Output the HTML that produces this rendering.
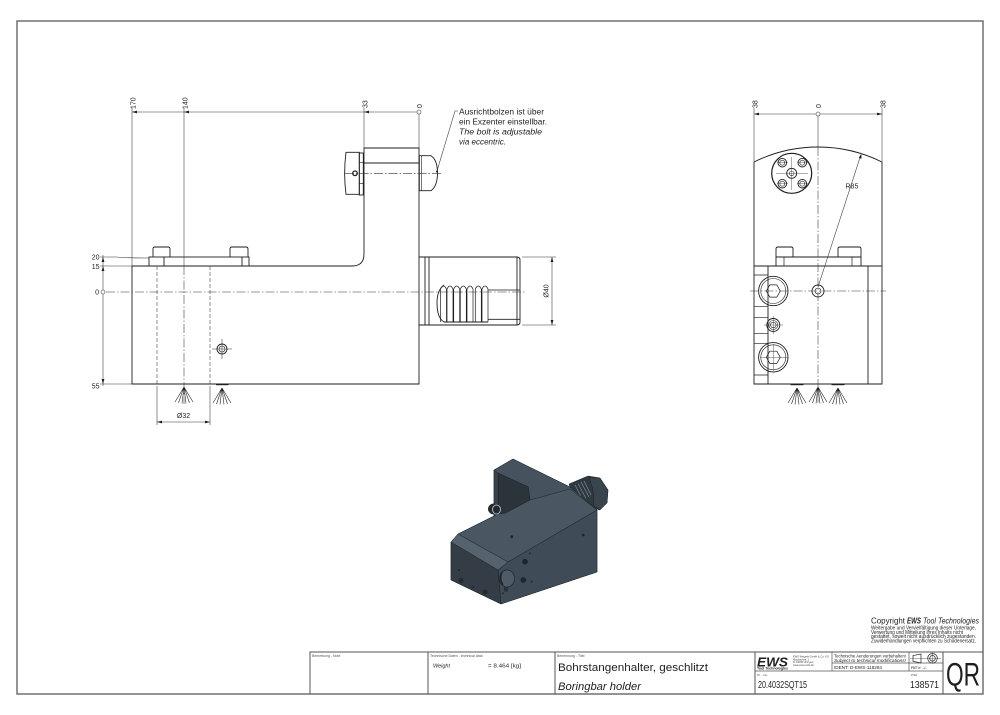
<!DOCTYPE html>
<html><head><meta charset="utf-8">
<style>html,body{margin:0;padding:0;background:#fff}svg{display:block}</style>
</head>
<body>
<svg width="1000" height="715" viewBox="0 0 1000 715" xmlns="http://www.w3.org/2000/svg" font-family="Liberation Sans, sans-serif">
<defs>
<path id="spray" d="M0 2 L-9 17 M0 2 L-5.5 18 M0 2 L-2 18.5 M0 2 L2 18.5 M0 2 L5.5 18 M0 2 L9 17" fill="none" stroke="#222" stroke-width="0.6"/>
</defs>
<rect width="1000" height="715" fill="#fff"/>
<path d="M17 694 V21 H983 V694 Z" fill="none" stroke="#707070" stroke-width="1.5"/>

<!-- ================= LEFT VIEW ================= -->
<g fill="none" stroke="#1e1e1e" stroke-width="0.9">
  <path d="M132 266 V384 H419 V148 H364 V254 Q364 266 352 266 H132"/>
  <line x1="364" y1="163" x2="419" y2="163"/>
  <rect x="149" y="257" width="100" height="9"/>
  <line x1="164" y1="257" x2="164" y2="266"/>
  <line x1="242" y1="257" x2="242" y2="266"/>
  <path d="M153 257 V249 Q153 247 155 247 H168 Q170 247 170 249 V257"/>
  <path d="M230 257 V249 Q230 247 232 247 H246 Q248 247 248 249 V257"/>
  <line x1="425" y1="257" x2="425" y2="325"/>
  <line x1="429" y1="257" x2="429" y2="325"/>
  <path d="M419 257 H517 Q520 257 520 260 V322 Q520 325 517 325 H419"/>
  <line x1="517" y1="257" x2="517" y2="325"/>
  <path d="M444 285 Q437 290 437 303 Q437 318 444 322 H488"/>
  <path d="M440.5 322 V289 Q443.3 283 446.5 289 V322 M447 322 V289 Q450 283 453 289 V322 M453.7 322 V289 Q456.7 283 459.7 289 V322 M460.3 322 V289 Q463.3 283 466.3 289 V322 M467 322 V289 Q470 283 473 289 V322 M475.3 322 V289 Q478.3 283 481.3 289 V322 M482 322 V289 Q485 283 488 289 V322" stroke-width="0.7"/>
  <path d="M488 290 H520 M488 319.3 H520" stroke-width="0.8"/>
  <path d="M346 152.3 H359.3 V194.3 H346 Q343.3 173.3 346 152.3 Z"/>
  <rect x="359.3" y="153" width="4" height="42"/>
  <path d="M359.3 162.7 H364 M359.3 183.3 H364" stroke-width="0.6"/>
  <circle cx="355" cy="173.3" r="2.3" stroke-width="1.3"/>
  <path d="M419.3 155.7 H431 Q437.5 160 437.5 173 Q437.5 186 431 190.7 H419.3 Z"/>
  <line x1="421.7" y1="155.7" x2="421.7" y2="190.7" stroke-width="0.6"/>
  <circle cx="222" cy="349" r="5"/>
  <circle cx="222" cy="349" r="3" stroke-width="0.6"/>
</g>
<g fill="none" stroke="#333" stroke-width="0.55">
  <line x1="157" y1="266" x2="157" y2="384" stroke-dasharray="4 2"/>
  <line x1="210" y1="266" x2="210" y2="384" stroke-dasharray="4 2"/>
  <line x1="184" y1="266" x2="184" y2="404" stroke-dasharray="9 2 1.5 2"/>
  <line x1="106" y1="292" x2="526" y2="292" stroke-dasharray="9 2 1.5 2"/>
  <line x1="345" y1="173.3" x2="441" y2="173.3" stroke-dasharray="9 2 1.5 2"/>
  <path d="M212 349 H232 M222 339 V359"/>
  <line x1="132" y1="112" x2="417" y2="112"/>
  <circle cx="419" cy="112" r="2"/>
  <line x1="132" y1="108" x2="132" y2="266"/>
  <line x1="184" y1="108" x2="184" y2="266"/>
  <line x1="364" y1="108" x2="364" y2="148"/>
  <line x1="419" y1="114" x2="419" y2="148"/>
  <line x1="103" y1="255" x2="103" y2="290"/>
  <line x1="103" y1="294" x2="103" y2="386"/>
  <circle cx="103" cy="292" r="2"/>
  <path d="M100 257 H117 Q125 258 149 258"/>
  <path d="M100 266 H132"/>
  <path d="M100 384 H132"/>
  <path d="M522 257 H556 M522 325 H556 M552 257 V325"/>
  <path d="M157 386 V425 M210 386 V425 M157 422 H210"/>
  <path d="M437 171 L455 111 H458"/>
</g>
<g fill="#1e1e1e" stroke="none">
  <path d="M132 112 L137 110.6 L137 113.4 Z"/>
  <path d="M184 112 L189 110.6 L189 113.4 Z"/>
  <path d="M364 112 L369 110.6 L369 113.4 Z"/>
  <path d="M103 257 L101.6 262 L104.4 262 Z"/>
  <path d="M103 266 L101.6 271 L104.4 271 Z"/>
  <path d="M103 384 L101.6 379 L104.4 379 Z"/>
  <path d="M552 257 L550.6 262 L553.4 262 Z"/>
  <path d="M552 325 L550.6 320 L553.4 320 Z"/>
  <path d="M157 422 L162 420.6 L162 423.4 Z"/>
  <path d="M210 422 L205 420.6 L205 423.4 Z"/>
  <circle cx="437" cy="171.5" r="1"/>
  <rect x="216" y="383.6" width="12.5" height="1.6"/>
</g>
<use href="#spray" x="184" y="385"/>
<use href="#spray" x="222" y="386"/>
<g font-size="7" fill="#1e1e1e">
  <text transform="translate(135.5,109) rotate(-90)">170</text>
  <text transform="translate(187.5,109) rotate(-90)">140</text>
  <text transform="translate(367.5,108) rotate(-90)">33</text>
  <text transform="translate(422,108) rotate(-90)">0</text>
  <text x="99.5" y="259.5" text-anchor="end">20</text>
  <text x="99.5" y="269" text-anchor="end">15</text>
  <text x="99" y="294.5" text-anchor="end">0</text>
  <text x="99.5" y="388.5" text-anchor="end">55</text>
  <text transform="translate(548.5,291) rotate(-90)" text-anchor="middle">Ø40</text>
  <text x="183.5" y="418" text-anchor="middle">Ø32</text>
</g>
<g font-size="8" fill="#1e1e1e">
  <text x="459" y="114.5" textLength="85" lengthAdjust="spacingAndGlyphs">Ausrichtbolzen ist über</text>
  <text x="459" y="124.5" textLength="88" lengthAdjust="spacingAndGlyphs">ein Exzenter einstellbar.</text>
  <text x="459" y="134.5" font-style="italic" textLength="83" lengthAdjust="spacingAndGlyphs">The bolt is adjustable</text>
  <text x="459" y="144.5" font-style="italic" textLength="47" lengthAdjust="spacingAndGlyphs">via eccentric.</text>
</g>

<!-- ================= RIGHT VIEW ================= -->
<g fill="none" stroke="#1e1e1e" stroke-width="0.9">
  <path d="M754 162 A144 144 0 0 1 882 162"/>
  <path d="M754 162 V384 H882 V162"/>
  <line x1="754" y1="266" x2="882" y2="266"/>
  <line x1="768" y1="266" x2="768" y2="384"/>
  <line x1="868" y1="266" x2="868" y2="384"/>
  <path d="M754 275 H768 M754 306.7 H768 M754 317.3 H768 M754 333.3 H768 M754 343.3 H768 M754 375 H768" stroke-width="0.7"/>
  <path d="M776 266 V249 Q776 247 778 247 H791 Q793 247 793 249 V257"/>
  <path d="M838 257 V249 Q838 247 840 247 H859 Q861 247 861 249 V266"/>
  <line x1="776" y1="257" x2="861" y2="257"/>
  <line x1="784" y1="257" x2="784" y2="266" stroke-width="0.7"/>
  <line x1="852" y1="257" x2="852" y2="266" stroke-width="0.7"/>
  <circle cx="791.7" cy="173.3" r="20" stroke-width="1.2"/>
  <circle cx="782.3" cy="162.7" r="4.3"/>
  <circle cx="802.3" cy="162.7" r="4.3"/>
  <circle cx="782.3" cy="183.7" r="4.3"/>
  <circle cx="802.3" cy="183.7" r="4.3"/>
  <g stroke-width="0.6">
  <circle cx="782.3" cy="162.7" r="2.5"/>
  <circle cx="802.3" cy="162.7" r="2.5"/>
  <circle cx="782.3" cy="183.7" r="2.5"/>
  <circle cx="802.3" cy="183.7" r="2.5"/>
  </g>
  <circle cx="791.7" cy="173.3" r="5"/>
  <circle cx="791.7" cy="173.3" r="2.3" stroke-width="0.6"/>
  <circle cx="773.3" cy="291" r="14.7"/>
  <circle cx="773.3" cy="291" r="12.5" stroke-width="0.6"/>
  <path d="M780.3 291 L776.8 297.1 L769.8 297.1 L766.3 291 L769.8 284.9 L776.8 284.9 Z" stroke-width="0.7"/>
  <circle cx="773.3" cy="357.3" r="14.7"/>
  <circle cx="773.3" cy="357.3" r="12.5" stroke-width="0.6"/>
  <path d="M780.3 357.3 L776.8 363.4 L769.8 363.4 L766.3 357.3 L769.8 351.2 L776.8 351.2 Z" stroke-width="0.7"/>
  <circle cx="773.3" cy="325" r="6.5"/>
  <circle cx="773.3" cy="325" r="4.5" stroke-width="0.6"/>
  <circle cx="773.3" cy="325" r="2.8" stroke-width="0.6"/>
  <circle cx="818" cy="291" r="6"/>
  <circle cx="818" cy="291" r="3" stroke-width="0.6"/>
</g>
<g fill="none" stroke="#333" stroke-width="0.55">
  <path d="M776 173.3 H808 M791.7 157 V190 M777 162.7 H788 M797 162.7 H808 M777 183.7 H788 M797 183.7 H808" stroke-width="0.4"/>
  <line x1="750" y1="291" x2="886" y2="291" stroke-dasharray="9 2 1.5 2"/>
  <line x1="818" y1="147" x2="818" y2="404" stroke-dasharray="9 2 1.5 2"/>
  <path d="M760 357.3 H788 M773.3 344 V371 M764 325 H783 M773.3 316 V334" stroke-width="0.4"/>
  <line x1="754" y1="114" x2="816" y2="114"/>
  <line x1="820" y1="114" x2="882" y2="114"/>
  <circle cx="818" cy="114" r="2"/>
  <line x1="754" y1="108" x2="754" y2="162"/>
  <line x1="882" y1="108" x2="882" y2="162"/>
  <line x1="818" y1="116" x2="818" y2="147"/>
  <line x1="818" y1="287" x2="860.5" y2="156"/>
</g>
<g fill="#1e1e1e" stroke="none">
  <path d="M754 114 L759 112.6 L759 115.4 Z"/>
  <path d="M882 114 L877 112.6 L877 115.4 Z"/>
  <path d="M861.3 153.6 L861.5 158.8 L858.8 157.9 Z"/>
  <rect x="790.5" y="383.6" width="13" height="1.6"/>
  <rect x="831.5" y="383.6" width="13" height="1.6"/>
</g>
<use href="#spray" x="797" y="386"/>
<use href="#spray" x="818" y="385"/>
<use href="#spray" x="838" y="386"/>
<g font-size="7" fill="#1e1e1e">
  <text transform="translate(757.5,108) rotate(-90)">38</text>
  <text transform="translate(821,108) rotate(-90)">0</text>
  <text transform="translate(885.5,108) rotate(-90)">38</text>
  <text x="845.5" y="188.5">R85</text>
</g>

<!-- ================= 3D MODEL ================= -->
<g stroke="#1c2227" stroke-width="0.5" stroke-linejoin="round">
  <polygon points="569,484 588,476 600,478 608,490 607,503 600,510 592,508 574,500" fill="#2f383f"/>
  <polygon points="589,477 600,478 608,490 607,503 600,510 594,506 593,490" fill="#3a444d"/>
  <path d="M575 485 L583 500 M578 483.5 L586 498.5 M581 482 L589 497 M584 481 L591 495" stroke="#8a96a0" stroke-width="0.6"/>
  <polygon points="451,542 458,534 494,516 494,470 513,459 570,487 597,510 597,572 501,604 451,580" fill="#44505b"/>
  <polygon points="494,470 513,459 570,487 597,510 530,500 528,487 498,473" fill="#46535f"/>
  <polygon points="494,470 498,473 498,514 494,516" fill="#39434c"/>
  <polygon points="498.3,473.3 528.3,486.7 530,500 505,513.3 498.3,514" fill="#2c343b"/>
  <polygon points="458,534 498,514 505,513.3 530,500 570,489 597,510 508,562" fill="#4a5763"/>
  <polygon points="498,570 508,562 597,510 597,572 501,604" fill="#3f4b56"/>
  <polygon points="451,542 498,570 501,604 451,580" fill="#343d46"/>
  <polygon points="451,542 458,534 508,562 498,570" fill="#56636e"/>
</g>
<g stroke="none">
  <ellipse cx="494" cy="509" rx="6" ry="5.5" fill="#25292d"/>
  <ellipse cx="496.5" cy="509.5" rx="4" ry="4.5" fill="none" stroke="#9fb3c4" stroke-width="1"/>
  <ellipse cx="507" cy="578.5" rx="7.5" ry="8.5" fill="#4f5c67" stroke="#1e252b" stroke-width="0.7"/>
  <path d="M502 572 Q499 579 503 585" fill="none" stroke="#1e252b" stroke-width="1.5"/>
  <rect x="504" y="586.5" width="4" height="5" fill="#2a3238"/>
  <circle cx="525" cy="561.7" r="2.8" fill="#1f262b"/>
  <circle cx="523.3" cy="580" r="2.8" fill="#1f262b"/>
  <circle cx="530" cy="553.3" r="0.9" fill="#1f262b"/>
  <circle cx="531.7" cy="581.7" r="0.9" fill="#1f262b"/>
  <circle cx="503" cy="593.3" r="0.9" fill="#1f262b"/>
  <circle cx="511.7" cy="536.7" r="1.4" fill="#1f262b"/>
  <circle cx="583.3" cy="535" r="1.4" fill="#1f262b"/>
  <circle cx="459" cy="570" r="1" fill="#1f262b"/>
  <circle cx="461" cy="580.5" r="2.5" fill="#222a30"/>
  <circle cx="473" cy="587" r="1.6" fill="#2a3238"/>
  <circle cx="485" cy="592" r="2.5" fill="#222a30"/>
</g>

<!-- ================= COPYRIGHT ================= -->
<g fill="#1e1e1e">
  <text x="871" y="623.5" font-size="8" textLength="34" lengthAdjust="spacingAndGlyphs">Copyright</text>
  <text x="907" y="623.5" font-size="8" font-weight="bold" font-style="italic" textLength="14" lengthAdjust="spacingAndGlyphs">EWS</text>
  <text x="923" y="623.5" font-size="8" font-style="italic" textLength="56" lengthAdjust="spacingAndGlyphs">Tool Technologies</text>
  <g font-size="5">
  <text x="871" y="629.5" textLength="105" lengthAdjust="spacingAndGlyphs">Weitergabe und Vervielfältigung dieser Unterlage,</text>
  <text x="871" y="633.8" textLength="92" lengthAdjust="spacingAndGlyphs">Verwertung und Mitteilung ihres Inhalts nicht</text>
  <text x="871" y="638" textLength="105" lengthAdjust="spacingAndGlyphs">gestattet, soweit nicht ausdrücklich zugestanden.</text>
  <text x="871" y="642.3" textLength="105" lengthAdjust="spacingAndGlyphs">Zuwiderhandlungen verpflichten zu Schadenersatz.</text>
  </g>
</g>

<!-- ================= TITLE BLOCK ================= -->
<g fill="none" stroke="#555" stroke-width="1">
  <path d="M310 694 V652 H983"/>
  <line x1="428" y1="652" x2="428" y2="694"/>
  <line x1="555" y1="652" x2="555" y2="694"/>
  <line x1="755" y1="652" x2="755" y2="694"/>
  <line x1="943" y1="652" x2="943" y2="694"/>
  <line x1="832" y1="652" x2="832" y2="671" stroke-width="0.7"/>
  <line x1="909" y1="652" x2="909" y2="671" stroke-width="0.7"/>
  <line x1="832" y1="663" x2="943" y2="663" stroke-width="0.7"/>
  <line x1="755" y1="671" x2="943" y2="671" stroke-width="0.7"/>
</g>
<g fill="none" stroke="#222" stroke-width="0.7">
  <path d="M913 655.5 V661.3 L921 663 V654 Z"/>
  <circle cx="932.5" cy="658.3" r="4.8"/>
  <circle cx="932.5" cy="658.3" r="2.8"/>
  <path d="M910 658.3 H941 M932.5 652.5 V663" stroke-width="0.35"/>
</g>
<g fill="#1e1e1e">
  <text x="312" y="657" font-size="3.5" fill="#555">Bemerkung - Note</text>
  <text x="430" y="657" font-size="3.5" fill="#555">Technische Daten - technical data</text>
  <text x="433" y="667.5" font-size="5.5" font-style="italic">Weight</text>
  <text x="488" y="667.5" font-size="5.5" textLength="33" lengthAdjust="spacingAndGlyphs">=  8.464 [kg]</text>
  <text x="557" y="657" font-size="3.5" fill="#555">Benennung - Titel</text>
  <text x="558" y="671" font-size="11" textLength="150" lengthAdjust="spacingAndGlyphs">Bohrstangenhalter, geschlitzt</text>
  <text x="558" y="690" font-size="11" font-style="italic" textLength="83" lengthAdjust="spacingAndGlyphs">Boringbar holder</text>
  <text x="757" y="666.5" font-size="12.5" font-weight="bold" font-style="italic" textLength="31" lengthAdjust="spacingAndGlyphs">EWS</text>
  <text x="757" y="669.5" font-size="3.3" font-weight="bold" textLength="31" lengthAdjust="spacingAndGlyphs">Tool Technologies</text>
  <g font-size="2.6" fill="#444">
    <text x="793" y="657.5">EWS Weigele GmbH &amp; Co. KG</text>
    <text x="793" y="660.3">Maybachstr. 1</text>
    <text x="793" y="663.1">D-73066 Uhingen</text>
    <text x="793" y="665.9">www.ews-tools.de</text>
  </g>
  <text x="834" y="657.5" font-size="4.3" textLength="72" lengthAdjust="spacingAndGlyphs">Technische Aenderungen vorbehalten!</text>
  <text x="834" y="661.8" font-size="4.3" font-style="italic" textLength="72" lengthAdjust="spacingAndGlyphs">Subject to technical modifications!</text>
  <text x="834" y="669" font-size="4.3" textLength="48" lengthAdjust="spacingAndGlyphs">IDENT:   D-EWS-118284</text>
  <text x="911" y="669" font-size="4" textLength="16" lengthAdjust="spacingAndGlyphs">REV:  -/-</text>
  <text x="757" y="675.8" font-size="3" fill="#555">Nr. - No</text>
  <text x="911" y="675.8" font-size="3" fill="#555">PNR</text>
  <text x="758" y="688" font-size="10" textLength="49" lengthAdjust="spacingAndGlyphs">20.4032SQT15</text>
  <text x="910" y="688" font-size="10" textLength="29" lengthAdjust="spacingAndGlyphs">138571</text>
  <text x="946" y="685.5" font-size="32" textLength="34" lengthAdjust="spacingAndGlyphs">QR</text>
</g>
</svg>
</body>
</html>
